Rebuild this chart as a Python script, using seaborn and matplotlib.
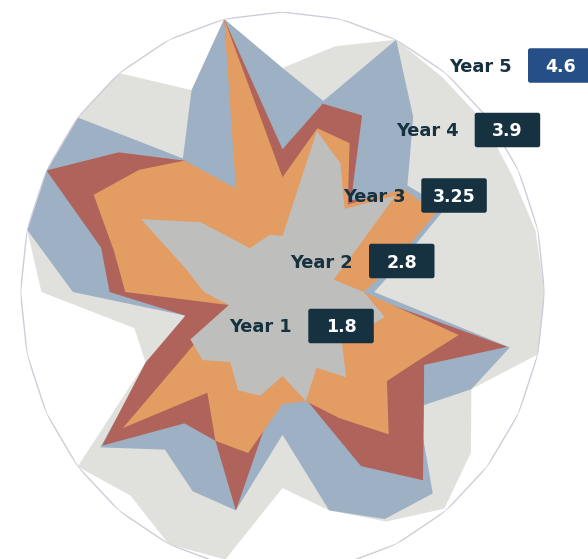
import numpy as np
import matplotlib
matplotlib.use("Agg")
import matplotlib.pyplot as plt
from matplotlib.patches import FancyBboxPatch
import pandas as pd
import seaborn as sns

# ---------------- data (28 spokes, clockwise from top, scale 0-5) ----------------
n_axes = 28
scale_max = 5.0
year_labels = ["Year 1", "Year 2", "Year 3", "Year 4", "Year 5"]
badge_values = ["1.8", "2.8", "3.25", "3.9", "4.6"]

year1 = [1.0, 2.95, 2.55, 1.9, 2.75, 1.45, 1.0, 1.55, 2.0, 1.65, 1.45, 1.95, 1.5, 2.0,
         1.5, 1.9, 1.95, 1.6, 1.95, 1.95, 1.05, 1.5, 1.9, 3.0, 2.0, 1.0, 1.0, 1.05]
year2 = [2.05, 3.0, 2.95, 2.0, 2.95, 3.25, 2.15, 1.55, 3.45, 2.85, 2.55, 3.25, 2.5, 2.0,
         2.0, 2.95, 2.95, 2.3, 3.9, 1.65, 1.05, 3.0, 3.3, 4.0, 3.5, 3.0, 2.05, 5.0]
year3 = [2.55, 3.45, 3.5, 2.1, 2.75, 3.0, 2.0, 1.4, 4.4, 3.0, 3.45, 4.3, 3.45, 1.95,
         1.5, 4.0, 2.95, 3.0, 4.4, 2.9, 1.9, 3.3, 3.55, 5.0, 4.0, 3.0, 1.9, 5.0]
year4 = [4.0, 3.5, 5.0, 4.0, 3.05, 3.45, 2.3, 1.75, 4.45, 4.0, 3.3, 4.6, 4.5, 4.0,
         2.55, 4.0, 3.95, 3.6, 4.45, 2.85, 1.9, 4.0, 5.0, 5.0, 5.0, 3.05, 4.0, 5.0]
year5 = [4.0, 4.5, 5.0, 4.9, 4.9, 4.85, 4.95, 5.0, 5.0, 4.0, 4.6, 4.95, 4.55, 4.0,
         3.5, 4.9, 5.0, 4.65, 5.0, 2.9, 2.9, 4.6, 5.0, 5.0, 5.0, 5.0, 4.0, 5.0]

series_colors = ["#bebebd", "#e39c62", "#b0635b", "#9eb0c4", "#e0e1dc"]
badge_colors = ["#163140", "#163140", "#163140", "#163140", "#274f87"]

# ---------------- style ----------------
sns.set_theme(style="white")
plt.rcParams['font.family'] = ['DejaVu Sans']

W, H = 588, 559
fig = plt.figure(figsize=(W / 100, H / 100), dpi=100)
fig.patch.set_facecolor("white")

cx, cy, rx, ry = 282.5, 292.0, 262.0, 280.0
ax = fig.add_axes([(cx - rx) / W, (H - (cy + ry)) / H, 2 * rx / W, 2 * ry / H],
                  projection="polar")
ax.set_aspect("auto")
ax.set_theta_zero_location("N")
ax.set_theta_direction(-1)

theta = np.linspace(0, 2 * np.pi, n_axes, endpoint=False)
theta_c = np.append(theta, theta[0])

all_series = [year1, year2, year3, year4, year5]
for z, idx in enumerate([4, 3, 2, 1, 0]):
    vals = np.asarray(all_series[idx], dtype=float)
    ax.fill(theta_c, np.append(vals, vals[0]), color=series_colors[idx],
            lw=0, zorder=2 + z)

frame = pd.DataFrame({"theta": theta_c, "r": np.full(n_axes + 1, scale_max)})
sns.lineplot(data=frame, x="theta", y="r", ax=ax, sort=False, estimator=None,
             color="#cdcdda", lw=1.0, zorder=20)

ax.set_ylim(0, scale_max)
ax.grid(False)
ax.set_xticks([])
ax.set_yticks([])
ax.set_xlabel("")
ax.set_ylabel("")
ax.spines["polar"].set_visible(False)
ax.patch.set_alpha(0)

# ---------------- labels with value badges ----------------
badge_x0 = [308.3, 369.0, 421.3, 474.7, 528.0]
badge_yc = [326.0, 261.0, 195.5, 130.0, 65.5]
bw, bh = 65.5, 34.5
cap = 13.0

for lab, val, bx, byc, bc in zip(year_labels, badge_values, badge_x0, badge_yc, badge_colors):
    box = FancyBboxPatch((bx / W, 1 - (byc + bh / 2) / H), bw / W, bh / H,
                         boxstyle="round,pad=0,rounding_size=0.004",
                         transform=fig.transFigure, fc=bc, ec="none", zorder=30)
    fig.add_artist(box)
    fig.text((bx + bw / 2) / W, 1 - (byc + cap / 2) / H, val, color="white",
             fontsize=12.5, fontweight="bold", ha="center", va="baseline", zorder=31)
    fig.text((bx - 16) / W, 1 - (byc + cap / 2) / H, lab, color="#16313f",
             fontsize=12.8, fontweight="bold", ha="right", va="baseline", zorder=31)

fig.savefig("out.png", dpi=100, facecolor="white")
